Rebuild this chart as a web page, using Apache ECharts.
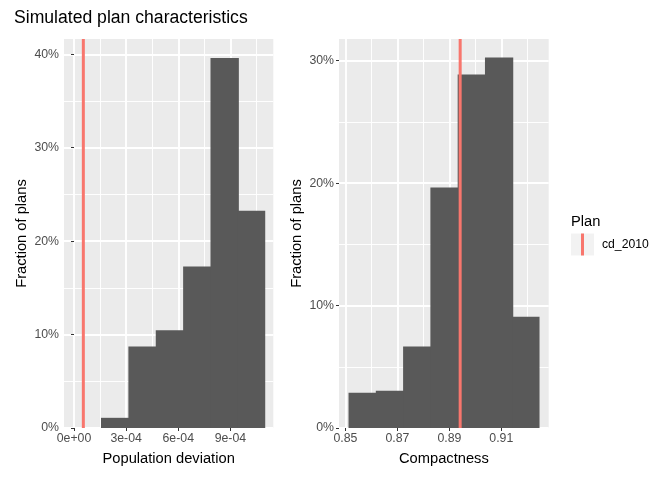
<!DOCTYPE html>
<html>
<head>
<meta charset="utf-8">
<script src="https://cdn.jsdelivr.net/npm/echarts@6/dist/echarts.min.js"></script>
<style>html,body{margin:0;padding:0;background:#fff}#c{width:672px;height:480px}</style>
</head>
<body>
<div id="c"></div>
<script>
// ---- data ----
const popBinEdges = [1.555e-4, 3.13e-4, 4.705e-4, 6.28e-4, 7.855e-4, 9.43e-4, 11.005e-4];
const popFractions = [1.09, 8.72, 10.46, 17.3, 39.6, 23.26];
const compBinEdges = [0.8512, 0.8617, 0.8722, 0.8827, 0.8932, 0.9037, 0.9142, 0.9247];
const compFractions = [2.88, 3.04, 6.66, 19.64, 28.87, 30.25, 9.09];
const planPop = 0.537e-4;
const planComp = 0.89416;
const popTicks = [0, 3e-4, 6e-4, 9e-4];
const popTickLabels = ['0e+00', '3e-04', '6e-04', '9e-04'];
const popMinorTicks = [1.5e-4, 4.5e-4, 7.5e-4, 10.5e-4];
const compTicks = [0.85, 0.87, 0.89, 0.91];
const compTickLabels = ['0.85', '0.87', '0.89', '0.91'];
const compMinorTicks = [0.86, 0.88, 0.90, 0.92];
const popYTicks = [0, 10, 20, 30, 40];
const popYMinorTicks = [5, 15, 25, 35];
const compYTicks = [0, 10, 20, 30];
const compYMinorTicks = [5, 15, 25];
const planName = 'cd_2010';

// ---- helpers ----
function bins(edges, vals) {
  return vals.map((v, i) => [edges[i], edges[i + 1], v]);
}
function labelFor(ticks, labels) {
  return function (v) {
    let best = 0, d = Infinity;
    ticks.forEach((t, i) => { const dd = Math.abs(t - v); if (dd < d) { d = dd; best = i; } });
    return labels[best];
  };
}
const FONT = 'Liberation Sans, Arial, sans-serif';
const TICK_FS = 12.3;
const popX = [-0.576e-4, 11.47e-4];
const compX = [0.84753, 0.92823];
const popYMax = 41.64;
const compYMax = 31.77;

function renderBar(params, api) {
  const p0 = api.coord([api.value(0), 0]);
  const p1 = api.coord([api.value(1), api.value(2)]);
  const isLast = params.dataIndex === params.dataInsideLength - 1;
  return {
    type: 'rect',
    shape: { x: p0[0], y: p1[1], width: p1[0] - p0[0] + (isLast ? 0 : 1), height: p0[1] - p1[1] },
    style: { fill: '#595959' },
    silent: true
  };
}

function mainX(gridIndex, ext, ticks, labels, name) {
  return {
    type: 'value', gridIndex: gridIndex, min: ext[0], max: ext[1], position: 'bottom',
    name: name, nameLocation: 'middle', nameGap: 23, nameMoveOverlap: false,
    nameTextStyle: { color: '#000', fontSize: 14.7, fontFamily: FONT },
    axisLine: { show: false },
    axisTick: { show: true, length: 3, lineStyle: { color: '#333333', width: 1 }, customValues: ticks },
    axisLabel: { show: true, customValues: ticks, formatter: labelFor(ticks, labels), color: '#4D4D4D', fontSize: TICK_FS, fontFamily: FONT, margin: 5 },
    splitLine: { show: true, lineStyle: { color: '#FFFFFF', width: 1.9 } }
  };
}
function minorX(gridIndex, ext, ticks) {
  return {
    type: 'value', gridIndex: gridIndex, min: ext[0], max: ext[1], position: 'top',
    axisLine: { show: false },
    axisTick: { show: false, customValues: ticks },
    axisLabel: { show: false },
    splitLine: { show: true, lineStyle: { color: '#FFFFFF', width: 0.95 } }
  };
}
function mainY(gridIndex, max, ticks) {
  return {
    type: 'value', gridIndex: gridIndex, min: 0, max: max, position: 'left',
    name: 'Fraction of plans', nameLocation: 'middle', nameGap: 35, nameMoveOverlap: false,
    nameTextStyle: { color: '#000', fontSize: 14.7, fontFamily: FONT },
    axisLine: { show: false },
    axisTick: { show: true, length: 3, lineStyle: { color: '#333333', width: 1 }, customValues: ticks },
    axisLabel: { customValues: ticks, formatter: '{value}%', color: '#4D4D4D', fontSize: TICK_FS, fontFamily: FONT, margin: 5 },
    splitLine: { show: true, lineStyle: { color: '#FFFFFF', width: 1.9 } }
  };
}
function minorY(gridIndex, max, ticks) {
  return {
    type: 'value', gridIndex: gridIndex, min: 0, max: max, position: 'right',
    axisLine: { show: false },
    axisTick: { show: false, customValues: ticks },
    axisLabel: { show: false },
    splitLine: { show: true, lineStyle: { color: '#FFFFFF', width: 0.95 } }
  };
}

const chart = echarts.init(document.getElementById('c'), null, { renderer: 'canvas' });
chart.setOption({
  animation: false,
  backgroundColor: '#FFFFFF',
  textStyle: { fontFamily: FONT },
  title: [
    { text: 'Simulated plan characteristics', left: 14, top: 9, padding: 0, textStyle: { fontSize: 17.6, fontWeight: 'normal', color: '#000', fontFamily: FONT } },
    { text: 'Plan', left: 571, top: 214, padding: 0, textStyle: { fontSize: 14.7, fontWeight: 'normal', color: '#000', fontFamily: FONT } }
  ],
  grid: [
    { left: 64, top: 39, width: 209.3, height: 389, show: true, backgroundColor: '#EBEBEB', borderWidth: 0, containLabel: false },
    { left: 339, top: 39, width: 209.7, height: 389, show: true, backgroundColor: '#EBEBEB', borderWidth: 0, containLabel: false }
  ],
  xAxis: [
    mainX(0, popX, popTicks, popTickLabels, 'Population deviation'),
    minorX(0, popX, popMinorTicks),
    mainX(1, compX, compTicks, compTickLabels, 'Compactness'),
    minorX(1, compX, compMinorTicks)
  ],
  yAxis: [
    mainY(0, popYMax, popYTicks),
    minorY(0, popYMax, popYMinorTicks),
    mainY(1, compYMax, compYTicks),
    minorY(1, compYMax, compYMinorTicks)
  ],
  legend: {
    data: [planName], left: 581, top: 233.5, orient: 'vertical', padding: 0,
    icon: 'rect', itemWidth: 3, itemHeight: 22, z: 10,
    selectedMode: false,
    textStyle: { color: '#000', fontSize: 12.2, fontFamily: FONT, padding: [3, 0, 0, 13] }
  },
  graphic: [
    { type: 'rect', left: 571, top: 233.5, shape: { width: 23, height: 22 }, style: { fill: '#F2F2F2' }, z: 1 }
  ],
  series: [
    { type: 'custom', xAxisIndex: 0, yAxisIndex: 0, renderItem: renderBar, data: bins(popBinEdges, popFractions), encode: { x: [0, 1], y: 2 }, z: 2 },
    { type: 'custom', xAxisIndex: 2, yAxisIndex: 2, renderItem: renderBar, data: bins(compBinEdges, compFractions), encode: { x: [0, 1], y: 2 }, z: 2 },
    { type: 'line', name: planName, xAxisIndex: 0, yAxisIndex: 0, data: [[planPop, 0], [planPop, popYMax]], symbol: 'none', color: '#F8766D', lineStyle: { color: '#F8766D', width: 3 }, z: 3, silent: true },
    { type: 'line', name: planName, xAxisIndex: 2, yAxisIndex: 2, data: [[planComp, 0], [planComp, compYMax]], symbol: 'none', color: '#F8766D', lineStyle: { color: '#F8766D', width: 3 }, z: 3, silent: true }
  ]
});
</script>
</body>
</html>
